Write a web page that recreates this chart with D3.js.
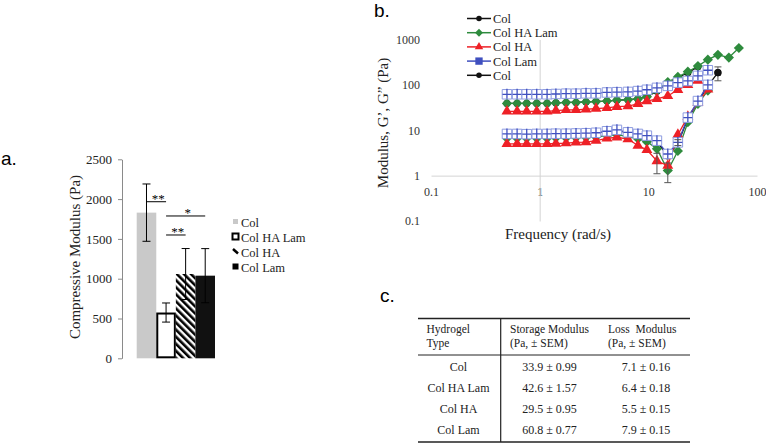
<!DOCTYPE html>
<html><head><meta charset="utf-8">
<script src="https://cdn.jsdelivr.net/npm/d3@7"></script>
<style>body{margin:0;background:#fff} svg{display:block}</style>
</head><body>
<svg id="c" width="766" height="443"></svg>
<script>
// ---------- Panel a data ----------
const barCategories = ["Col", "Col HA Lam", "Col HA", "Col Lam"];
const barValues = [1830, 575, 1059, 1038];
const barErrors = [360, 120, 320, 340];
const barTicks = [0, 500, 1000, 1500, 2000, 2500];
const sigFrom = ["Col", "Col HA Lam", "Col HA Lam"];
const sigTo = ["Col HA Lam", "Col Lam", "Col HA"];
const sigLevel = [1967, 1788, 1549];
const sigLabel = ["**", "*", "**"];

// ---------- Panel b data ----------
const freq = [0.5, 0.62, 0.76, 0.94, 1.17, 1.41, 1.75, 2.16, 2.67, 3.3, 4.16, 5.14,
              6.49, 8.02, 9.7, 12.0, 15.1, 18.7, 23.1, 28.6, 35.3, 43.7, 55.1, 68.1];
const xTicksB = [0.1, 1, 10, 100];
const yTicksB = [0.1, 1, 10, 100, 1000];
const colGp   = [39, 39, 39, 39, 39, 40, 41, 41, 42, 43, 44, 46, 47, 49, 55, 72, 110, 145, 185, 250, null, null, null, null];
const colGpp  = [8.1, 8.1, 8.0, 8.1, 8.1, 8.2, 8.2, 8.3, 8.4, 8.6, 9.3, 9.9, 8.8, 8.1, 7.4, 5.6, 2.7, 5.1, 18, 42, 95, 186, null, null];
const hlGp    = [39, 39, 39, 39, 39, 40, 41, 41, 42, 43, 44, 46, 47, 49, 55, 75, 115, 150, 195, 260, 360, 460, 400, 650];
const hlGpp   = [6.7, 6.7, 6.7, 6.7, 6.7, 6.8, 6.8, 6.9, 7.0, 7.1, 7.6, 8.0, 7.2, 6.5, 5.6, 3.9, 1.3, 3.5, 15, 38, 75, null, null, null];
const haGp    = [26, 26, 26, 26, 26, 27, 28, 28, 29, 30, 31, 33, 34, 38, 44, 49, 57, 78, 100, 125, null, null, null, null];
const haGpp   = [5.0, 5.0, 5.0, 5.0, 5.0, 5.1, 5.2, 5.4, 5.5, 5.9, 6.6, 7.0, 6.4, 4.6, 3.7, 2.1, 1.66, 8.0, 20, 40, 80, null, null, null];
const lamGp   = [62, 62, 62, 62, 62, 63, 64, 64, 65, 65, 68, 69, 70, 73, 78, 86, 95, 112, 122, 158, 210, null, null, null];
const lamGpp  = [8.3, 8.3, 8.2, 8.3, 8.3, 8.4, 8.4, 8.5, 8.6, 8.8, 9.5, 10.2, 9.0, 8.3, 7.6, 5.9, 3.0, 5.4, 19, 44, 100, null, null, null];
const legendNamesB = ["Col", "Col HA Lam", "Col HA", "Col Lam", "Col"];
// error bars in panel b: series key, point index, error
const errSeries = ["haGpp", "hlGpp", "colGpp", "lamGpp"];
const errIndex  = [15, 16, 21, 17];
const errValue  = [1.0, 0.6, 63, 0.8];

// ---------- Panel c data ----------
const tableTypes = ["Col", "Col HA Lam", "Col HA", "Col Lam"];
const storageMean = [33.9, 42.6, 29.5, 60.8];
const storageSem  = [0.99, 1.57, 0.95, 0.77];
const lossMean    = [7.1, 6.4, 5.5, 7.9];
const lossSem     = [0.16, 0.18, 0.15, 0.15];

const serif = "'Liberation Serif','Times New Roman',serif";
const sans = "'Liberation Sans',Arial,sans-serif";
const svg = d3.select("#c");

// panel letters
svg.append("text").attr("x", 1).attr("y", 165).attr("font-family", sans).attr("font-size", 19).text("a.");
svg.append("text").attr("x", 374).attr("y", 17).attr("font-family", sans).attr("font-size", 19).text("b.");
svg.append("text").attr("x", 380).attr("y", 302).attr("font-family", sans).attr("font-size", 19).text("c.");

// ================= Panel a =================
const ya = d3.scaleLinear().domain([0, 2500]).range([358.3, 159.3]);
const xa = d3.scaleBand().domain(barCategories).range([136.7, 215]).padding(0);
const ga = svg.append("g");

const defs = svg.append("defs");
const pat = defs.append("pattern").attr("id", "hatch").attr("patternUnits", "userSpaceOnUse")
  .attr("width", 5).attr("height", 5).attr("patternTransform", "rotate(-45)");
pat.append("rect").attr("width", 5).attr("height", 5).attr("fill", "#fff");
pat.append("rect").attr("x", 0).attr("width", 2.6).attr("height", 5).attr("fill", "#000");

const yAxisA = d3.axisLeft(ya).tickValues(barTicks).tickSize(4).tickSizeOuter(0).tickPadding(6).tickFormat(d3.format("d"));
const axA = ga.append("g").attr("transform", "translate(122,0)").call(yAxisA);
axA.select(".domain").attr("stroke", "#8a8a8a");
axA.selectAll(".tick line").attr("stroke", "#8a8a8a");
axA.selectAll(".tick text").attr("font-family", serif).attr("font-size", 13).attr("fill", "#222");

const barFill = ["#c9c9c9", "#fff", "url(#hatch)", "#111"];
barCategories.forEach((c, i) => {
  const x = xa(c), w = xa.bandwidth();
  if (i === 1) {
    ga.append("rect").attr("x", x + 1).attr("y", ya(barValues[i]) + 1).attr("width", w - 2)
      .attr("height", ya(0) - ya(barValues[i]) - 2).attr("fill", "#fff").attr("stroke", "#000").attr("stroke-width", 2);
  } else {
    ga.append("rect").attr("x", x).attr("y", ya(barValues[i])).attr("width", w)
      .attr("height", ya(0) - ya(barValues[i])).attr("fill", barFill[i]);
  }
});
// error bars
barCategories.forEach((c, i) => {
  const cx = xa(c) + xa.bandwidth() / 2;
  const y1 = ya(barValues[i] + barErrors[i]), y2 = ya(barValues[i] - barErrors[i]);
  ga.append("line").attr("x1", cx).attr("x2", cx).attr("y1", y1).attr("y2", y2).attr("stroke", "#000").attr("stroke-width", 1);
  [y1, y2].forEach(y => ga.append("line").attr("x1", cx - 4).attr("x2", cx + 4).attr("y1", y).attr("y2", y).attr("stroke", "#000").attr("stroke-width", 1));
});
// significance lines
sigLevel.forEach((lv, i) => {
  const x1 = xa(sigFrom[i]) + xa.bandwidth() / 2;
  const x2 = xa(sigTo[i]) + xa.bandwidth() / 2;
  const y = ya(lv);
  ga.append("line").attr("x1", x1).attr("x2", x2).attr("y1", y).attr("y2", y).attr("stroke", "#000").attr("stroke-width", 1);
  ga.append("text").attr("x", (x1 + x2) / 2 + 2).attr("y", y + 1.5).attr("text-anchor", "middle").attr("fill", "#000")
    .attr("font-family", serif).attr("font-size", 13).text(sigLabel[i]);
});
// y title
ga.append("text").attr("transform", "translate(80,257) rotate(-90)").attr("text-anchor", "middle")
  .attr("font-family", serif).attr("font-size", 15).attr("fill", "#222").text("Compressive Modulus (Pa)");
// legend a
barCategories.forEach((c, i) => {
  const y = 222 + i * 15;
  const g = ga.append("g");
  if (i === 0) g.append("rect").attr("x", 233).attr("y", y - 3).attr("width", 5).attr("height", 5).attr("fill", "#c9c9c9");
  if (i === 1) g.append("rect").attr("x", 232.5).attr("y", y - 3.5).attr("width", 6).attr("height", 6).attr("fill", "#fff").attr("stroke", "#000").attr("stroke-width", 2);
  if (i === 2) g.append("line").attr("x1", 233).attr("y1", y - 3).attr("x2", 238).attr("y2", y + 1.5).attr("stroke", "#000").attr("stroke-width", 2.5);
  if (i === 3) g.append("rect").attr("x", 232.5).attr("y", y - 3.5).attr("width", 6).attr("height", 6).attr("fill", "#000");
  g.append("text").attr("x", 241).attr("y", y + 4.5).attr("font-family", serif).attr("font-size", 12.5).attr("fill", "#222").text(c);
});

// ================= Panel b =================
const xb = d3.scaleLog().domain([0.1, 100]).range([431, 757]);
const yb = d3.scaleLog().domain([0.1, 1000]).range([221, 39.5]);
const gb = svg.append("g");

const xAxisB = d3.axisBottom(xb).tickValues(xTicksB).tickSize(0).tickSizeOuter(0).tickPadding(12).tickFormat(d3.format("~g"));
const axXB = gb.append("g").attr("transform", `translate(0,${yb(1)})`).call(xAxisB);
axXB.select(".domain").attr("stroke", "#d4d4d4");
axXB.selectAll(".tick text").attr("font-family", serif).attr("font-size", 12).attr("fill", "#333");

const yAxisB = d3.axisLeft(yb).tickValues(yTicksB).tickSize(0).tickSizeOuter(0).tickPadding(xb(1) - 420).tickFormat(d3.format("~g"));
const axYB = gb.append("g").attr("transform", `translate(${xb(1)},0)`).call(yAxisB);
axYB.select(".domain").attr("stroke", "#d4d4d4");
axYB.selectAll(".tick text").attr("font-family", serif).attr("font-size", 12).attr("fill", "#333");

gb.append("text").attr("transform", "translate(388,123) rotate(-90)").attr("text-anchor", "middle")
  .attr("font-family", serif).attr("font-size", 15).attr("fill", "#222").text("Modulus, G\u2019, G\u201D (Pa)");
gb.append("text").attr("x", 558).attr("y", 239).attr("text-anchor", "middle")
  .attr("font-family", serif).attr("font-size", 15).attr("fill", "#222").text("Frequency (rad/s)");

const seriesData = { colGp, colGpp, hlGp, hlGpp, haGp, haGpp, lamGp, lamGpp };
const styles = {
  col: { color: "#111", sym: d3.symbolCircle, size: 40, rot: 0 },
  hl:  { color: "#2e8b3d", sym: d3.symbolSquare, size: 52, rot: 45 },
  ha:  { color: "#ee2026", sym: d3.symbolTriangle, size: 52, rot: 0 },
  lam: { color: "#3f4fbf", sym: d3.symbolSquare, size: 90, rot: 0 }
};
const lineGen = d3.line().defined(d => d[1] != null).x(d => xb(d[0])).y(d => yb(d[1]));

function drawSeries(key, st) {
  ["Gp", "Gpp"].forEach(k => {
    const vals = seriesData[key + k];
    const pts = freq.map((f, i) => [f, vals[i]]);
    gb.append("path").attr("d", lineGen(pts)).attr("fill", "none").attr("stroke", st.color).attr("stroke-width", 1.3);
    const p = pts.filter(d => d[1] != null);
    const m = gb.append("g").selectAll("g").data(p).join("g")
      .attr("transform", d => `translate(${xb(d[0])},${yb(d[1])}) rotate(${st.rot})`);
    if (key === "lam") {
      m.append("path").attr("d", d3.symbol(st.sym, st.size)()).attr("fill", "#fff").attr("stroke", "#8d9be0").attr("stroke-width", 1);
      m.append("path").attr("d", "M-4.5,0H4.5M0,-5.5V4.5").attr("stroke", st.color).attr("stroke-width", 1.3);
    } else {
      m.append("path").attr("d", d3.symbol(st.sym, st.size)()).attr("fill", st.color);
    }
  });
}
drawSeries("col", styles.col);
drawSeries("hl", styles.hl);
drawSeries("ha", styles.ha);
drawSeries("lam", styles.lam);

// error bars
errSeries.forEach((s, i) => {
  const v = seriesData[s][errIndex[i]];
  const cx = xb(freq[errIndex[i]]);
  const y1 = yb(v + errValue[i]), y2 = yb(Math.max(v - errValue[i], 0.05));
  gb.append("line").attr("x1", cx).attr("x2", cx).attr("y1", y1).attr("y2", y2).attr("stroke", "#555").attr("stroke-width", 1);
  [y1, y2].forEach(y => gb.append("line").attr("x1", cx - 3.5).attr("x2", cx + 3.5).attr("y1", y).attr("y2", y).attr("stroke", "#555").attr("stroke-width", 1));
});
// re-draw last Col point on top
{
  const idx = 21;
  gb.append("path").attr("transform", `translate(${xb(freq[idx])},${yb(colGpp[idx])})`)
    .attr("d", d3.symbol(d3.symbolCircle, 40)()).attr("fill", "#111");
}

// legend b
const legSt = [styles.col, styles.hl, styles.ha, styles.lam, styles.col];
legendNamesB.forEach((n, i) => {
  const y = 18.5 + i * 14.2;
  const st = legSt[i];
  gb.append("line").attr("x1", 467).attr("x2", 491).attr("y1", y).attr("y2", y).attr("stroke", st.color).attr("stroke-width", 1.5);
  gb.append("path").attr("transform", `translate(479,${y}) rotate(${st.rot})`)
    .attr("d", d3.symbol(st.sym, st.size * 0.6)()).attr("fill", st.color);
  gb.append("text").attr("x", 493).attr("y", y + 4.5).attr("font-family", serif).attr("font-size", 12.5).attr("fill", "#222").text(n);
});

// ================= Panel c =================
const gc = svg.append("g").attr("font-family", serif).attr("font-size", 12).attr("fill", "#222");
const tx0 = 418, tx1 = 690, tTop = 318.5, tHead = 355, tBot = 442;
gc.append("line").attr("x1", tx0).attr("x2", tx1).attr("y1", tTop).attr("y2", tTop).attr("stroke", "#222").attr("stroke-width", 1.5);
gc.append("line").attr("x1", tx0).attr("x2", tx1).attr("y1", tHead).attr("y2", tHead).attr("stroke", "#222").attr("stroke-width", 1);
gc.append("line").attr("x1", tx0).attr("x2", tx1).attr("y1", tBot).attr("y2", tBot).attr("stroke", "#222").attr("stroke-width", 1.5);
gc.append("line").attr("x1", 500.7).attr("x2", 500.7).attr("y1", tTop).attr("y2", tBot).attr("stroke", "#222").attr("stroke-width", 1.2);
const hdr = [[426.5, "Hydrogel", "Type"], [510, "Storage Modulus", "(Pa, \u00B1 SEM)"], [608, "Loss\u00A0\u00A0Modulus", "(Pa, \u00B1 SEM)"]];
hdr.forEach(h => {
  gc.append("text").attr("x", h[0]).attr("y", 333).attr("font-size", 11.5).text(h[1]);
  gc.append("text").attr("x", h[0]).attr("y", 346.5).attr("font-size", 11.5).text(h[2]);
});
tableTypes.forEach((t, i) => {
  const y = 370.5 + i * 21.3;
  gc.append("text").attr("x", 458.5).attr("y", y).attr("text-anchor", "middle").text(t);
  gc.append("text").attr("x", 549.5).attr("y", y).attr("text-anchor", "middle").text(storageMean[i].toFixed(1) + " \u00B1 " + storageSem[i].toFixed(2));
  gc.append("text").attr("x", 646).attr("y", y).attr("text-anchor", "middle").text(lossMean[i].toFixed(1) + " \u00B1 " + lossSem[i].toFixed(2));
});
</script>
</body></html>
